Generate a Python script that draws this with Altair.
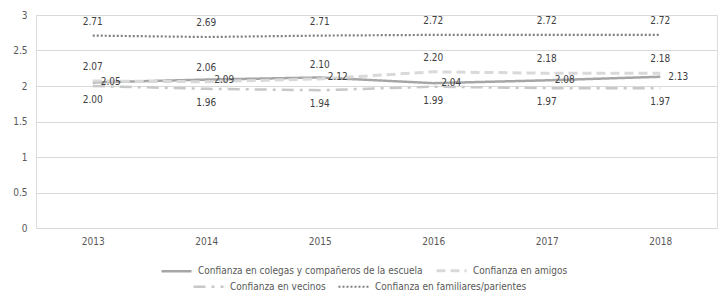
import altair as alt
import pandas as pd

years = ["2013", "2014", "2015", "2016", "2017", "2018"]
colegas = [2.05, 2.09, 2.12, 2.04, 2.08, 2.13]
amigos = [2.07, 2.06, 2.10, 2.20, 2.18, 2.18]
vecinos = [2.00, 1.96, 1.94, 1.99, 1.97, 1.97]
familiares = [2.71, 2.69, 2.71, 2.72, 2.72, 2.72]

names = [
    "Confianza en colegas y compañeros de la escuela",
    "Confianza en amigos",
    "Confianza en vecinos",
    "Confianza en familiares/parientes",
]
colors = ["#a6a6a6", "#d9d9d9", "#c8c8c8", "#7f7f7f"]
dashes = [[1, 0], [9, 5], [12, 6, 3, 6], [2, 2]]
widths = [2.5, 3, 2.5, 2.2]

FONT = "DejaVu Sans Condensed, sans-serif"
FS = 10

rows = []
for name, vals in zip(names, [colegas, amigos, vecinos, familiares]):
    for yr, v in zip(years, vals):
        rows.append({"year": yr, "serie": name, "valor": v})
df = pd.DataFrame(rows)

x = alt.X("year:N", title=None, sort=years,
          axis=alt.Axis(domain=False, ticks=False, labelAngle=0, labelPadding=8,
                        labelColor="#595959", labelFontSize=FS, labelFont=FONT))
y = alt.Y("valor:Q", title=None,
          scale=alt.Scale(domain=[0, 3], nice=False, zero=True),
          axis=alt.Axis(domain=False, ticks=False, values=[0, 0.5, 1, 1.5, 2, 2.5, 3],
                        format="~g", labelPadding=9, gridColor="#d9d9d9", gridWidth=1,
                        labelColor="#595959", labelFontSize=FS, labelFont=FONT))


def line_layer(idx, lx, ly, pad):
    sub_names = [names[i] for i in idx]
    leg = alt.Legend(orient="none", legendX=lx, legendY=ly, direction="horizontal",
                     title=None, symbolType="stroke", symbolSize=900,
                     labelFont=FONT, labelFontSize=FS, labelColor="#595959",
                     labelLimit=0, columnPadding=pad, labelOffset=5)
    return alt.Chart(df).transform_filter(
        alt.FieldOneOfPredicate(field="serie", oneOf=sub_names)
    ).mark_line().encode(
        x=x, y=y,
        color=alt.Color("serie:N", sort=sub_names,
                        scale=alt.Scale(domain=sub_names, range=[colors[i] for i in idx]),
                        legend=leg),
        strokeDash=alt.StrokeDash("serie:N", sort=sub_names,
                                  scale=alt.Scale(domain=sub_names, range=[dashes[i] for i in idx]),
                                  legend=leg),
        strokeWidth=alt.StrokeWidth("serie:N", sort=sub_names,
                                    scale=alt.Scale(domain=sub_names, range=[widths[i] for i in idx]),
                                    legend=leg),
    )


def label_layer(i, **kw):
    return alt.Chart(df).transform_filter(
        alt.datum.serie == names[i]
    ).mark_text(font=FONT, fontSize=FS, color="#404040", **kw).encode(
        x=x, y=y, text=alt.Text("valor:Q", format=".2f")
    )


lines = alt.layer(
    line_layer([0, 1], 124, 239, 7),
    line_layer([2, 3], 156, 255, 8),
).resolve_scale(color="independent", strokeDash="independent", strokeWidth="independent")

labels = alt.layer(
    label_layer(0, align="left", baseline="middle", dx=8),
    label_layer(1, align="center", baseline="middle", dy=-14),
    label_layer(2, align="center", baseline="middle", dy=14),
    label_layer(3, align="center", baseline="middle", dy=-14),
)

chart = alt.layer(lines, labels).resolve_scale(
    color="independent", strokeDash="independent", strokeWidth="independent"
).properties(
    width=681, height=213,
    autosize=alt.AutoSizeParams(type="none"),
    padding={"left": 36, "top": 15, "right": 7, "bottom": 72},
).configure_view(stroke=None).configure(background="white")

chart.save("out.html", embed_options={"renderer": "svg", "actions": False})
